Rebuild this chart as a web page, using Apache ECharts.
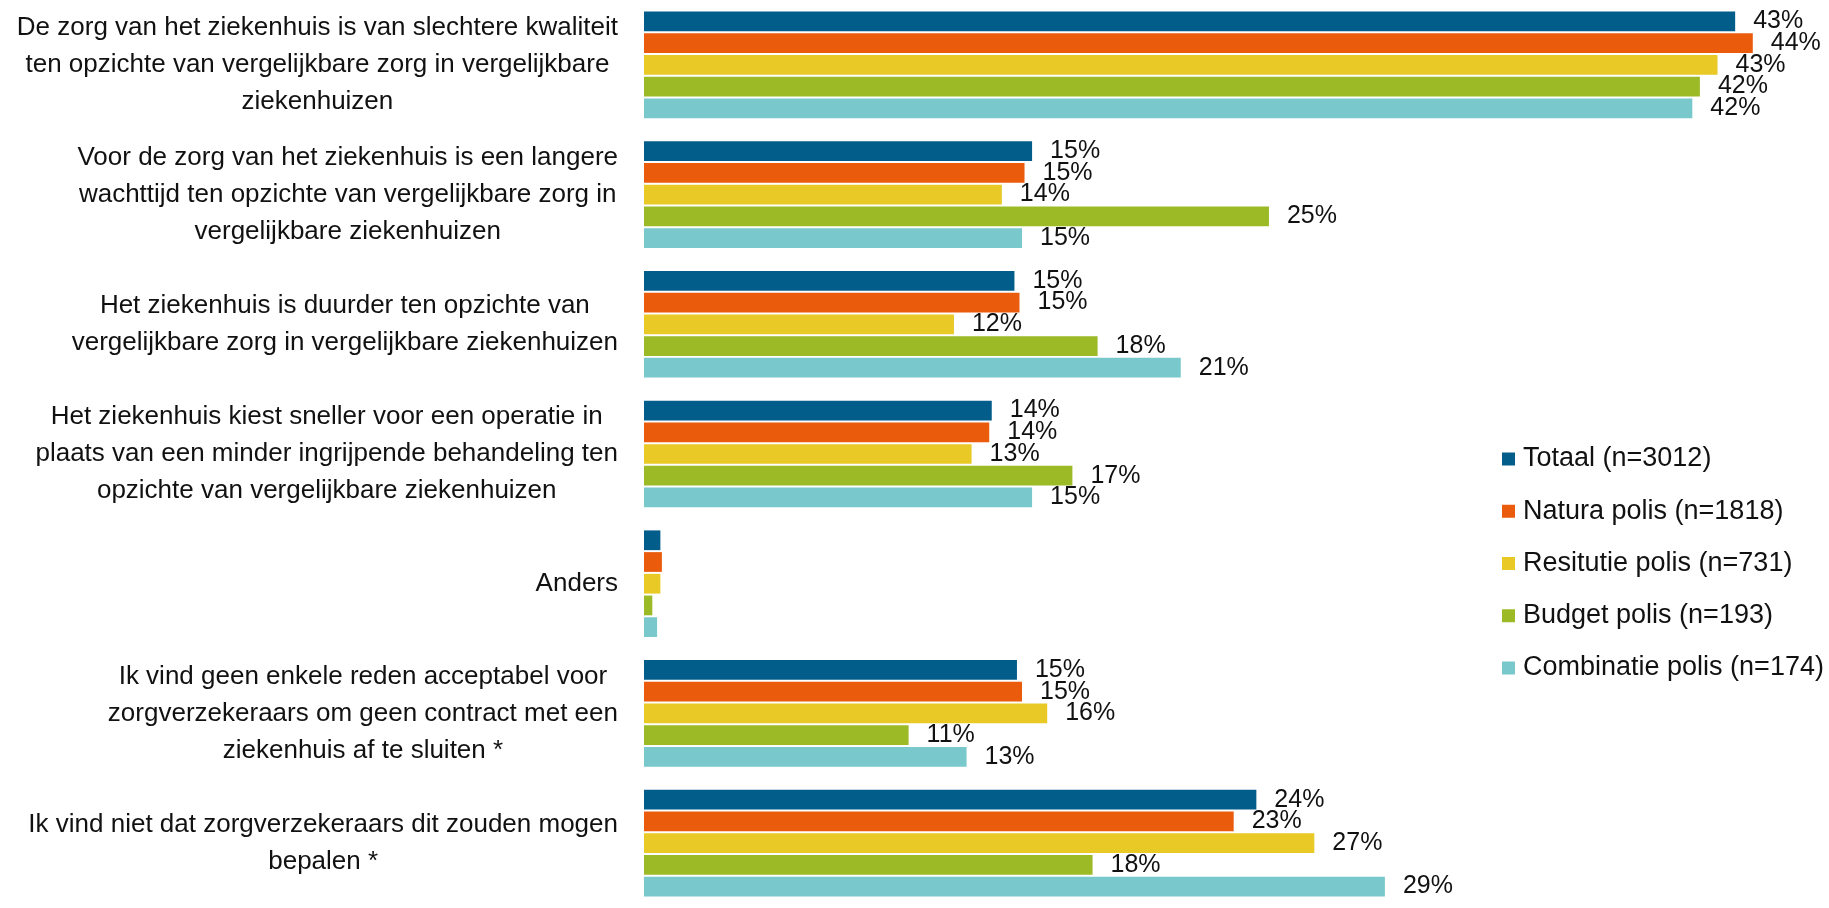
<!DOCTYPE html>
<html>
<head>
<meta charset="utf-8">
<script src="https://cdn.jsdelivr.net/npm/echarts@6/dist/echarts.min.js"></script>
<style>
html,body{margin:0;padding:0;background:#fff;}
#chart{width:1829px;height:908px;}
</style>
</head>
<body>
<div id="chart"></div>
<script>
const categories = [
  "De zorg van het ziekenhuis is van slechtere kwaliteit\nten opzichte van vergelijkbare zorg in vergelijkbare\nziekenhuizen",
  "Voor de zorg van het ziekenhuis is een langere\nwachttijd ten opzichte van vergelijkbare zorg in\nvergelijkbare ziekenhuizen",
  "Het ziekenhuis is duurder ten opzichte van\nvergelijkbare zorg in vergelijkbare ziekenhuizen",
  "Het ziekenhuis kiest sneller voor een operatie in\nplaats van een minder ingrijpende behandeling ten\nopzichte van vergelijkbare ziekenhuizen",
  "Anders",
  "Ik vind geen enkele reden acceptabel voor\nzorgverzekeraars om geen contract met een\nziekenhuis af te sluiten *",
  "Ik vind niet dat zorgverzekeraars dit zouden mogen\nbepalen *"
];
const seriesNames = ["Totaal (n=3012)", "Natura polis (n=1818)", "Resitutie polis (n=731)", "Budget polis (n=193)", "Combinatie polis (n=174)"];
const totaal     = [43.3, 15.4, 14.7, 13.8, 0.65, 14.8, 24.3];
const natura     = [44.0, 15.1, 14.9, 13.7, 0.71, 15.0, 23.4];
const restitutie = [42.6, 14.2, 12.3, 13.0, 0.65, 16.0, 26.6];
const budget     = [41.9, 24.8, 18.0, 17.0, 0.33, 10.5, 17.8];
const combinatie = [41.6, 15.0, 21.3, 15.4, 0.52, 12.8, 29.4];
const hiddenLabelCategory = "Anders";
const colors = ["#035d8a", "#ea5b0c", "#e9c926", "#9bba26", "#79c8cc"];
const allValues = [totaal, natura, restitutie, budget, combinatie];

const FONT = "Liberation Sans";
const chart = echarts.init(document.getElementById('chart'), null, {renderer: 'canvas'});

const series = seriesNames.map((name, i) => ({
  name: name,
  type: 'bar',
  data: allValues[i],
  itemStyle: {color: colors[i]},
  barGap: '10%',
  barCategoryGap: '17.8%',
  label: {
    show: true,
    position: 'right',
    distance: 18,
    color: '#111',
    fontFamily: FONT,
    fontSize: 25,
    formatter: p => categories[p.dataIndex] === hiddenLabelCategory ? '' : Math.round(p.value) + '%'
  }
}));

chart.setOption({
  animation: false,
  backgroundColor: '#fff',
  color: colors,
  grid: {left: 644, width: 1134, top: -2, bottom: -10, containLabel: false},
  xAxis: {type: 'value', min: 0, max: 45, show: false, splitLine: {show: false}},
  yAxis: {
    type: 'category',
    inverse: true,
    data: categories,
    axisLine: {show: false},
    axisTick: {show: false},
    axisLabel: {
      margin: 26,
      color: '#111',
      fontFamily: FONT,
      fontSize: 26,
      lineHeight: 37,
      align: 'right',
      formatter: v => v.split('\n').map(l => '{c|' + l + '}').join('\n'),
      rich: {c: {align: 'center', fontFamily: FONT, fontSize: 26, lineHeight: 37, color: '#111'}}
    }
  },
  legend: {
    orient: 'vertical',
    left: 1497,
    top: 439,
    itemWidth: 13,
    itemHeight: 13,
    itemGap: 22.25,
    icon: 'rect',
    data: seriesNames,
    textStyle: {fontFamily: FONT, fontSize: 27, color: '#111', lineHeight: 30, padding: [0, 0, 0, 3]}
  },
  series: series
});
</script>
</body>
</html>
